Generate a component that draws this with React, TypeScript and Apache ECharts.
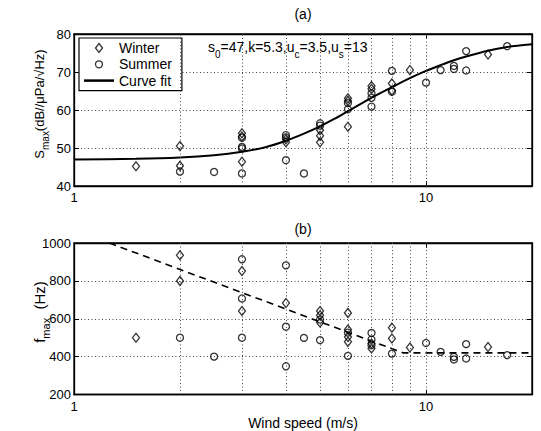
import React, { useEffect, useRef } from 'react';
import * as echarts from 'echarts';

const FONT = '"Liberation Sans", Arial, Helvetica, sans-serif';

// Panel (a): S_max (dB) vs wind speed (m/s)
const winterS: number[][] = [
  [1.5, 45.2], [2, 50.5], [2, 45.3], [3, 53.9], [3, 53.0], [3, 46.4],
  [4, 51.5], [4, 52.3], [5, 54.7], [5, 53.2], [5, 51.5], [6, 63.1],
  [6, 62.4], [6, 55.6], [7, 66.3], [7, 65.5], [8, 67.0], [8, 65.1],
  [9, 70.5], [15, 74.6],
];
const summerS: number[][] = [
  [2, 43.8], [2.5, 43.7], [3, 52.7], [3, 50.3], [3, 49.9], [3, 43.3],
  [4, 53.4], [4, 52.8], [4, 46.8], [4.5, 43.3], [5, 56.5], [5, 55.9],
  [6, 61.8], [6, 60.2], [7, 64.4], [7, 63.2], [7, 60.9], [8, 70.3],
  [8, 64.8], [10, 67.2], [11, 70.5], [12, 71.6], [12, 70.8], [13, 75.5],
  [13, 70.4], [17, 76.8],
];
const curveS: number[][] = [
  [1, 47.0], [1.5, 47.16], [2, 47.5], [2.5, 48.1], [3, 49.0], [3.5, 50.2],
  [4, 51.9], [4.5, 53.8], [5, 55.7], [5.5, 57.7], [6, 59.7], [7, 63.2],
  [8, 66.0], [9, 68.4], [10, 70.3], [11, 71.8], [12, 73.1], [13, 74.1],
  [15, 75.6], [17, 76.6], [20, 77.3],
];

// Panel (b): f_max (Hz) vs wind speed (m/s)
const winterF: number[][] = [
  [1.5, 500], [2, 935], [2, 800], [3, 852], [3, 641], [4, 683],
  [5, 641], [5, 618], [5, 580], [6, 631], [6, 543], [6, 504], [6, 478],
  [7, 469], [7, 443], [8, 553], [8, 496], [9, 448], [15, 451],
];
const summerF: number[][] = [
  [2, 500], [2.5, 400], [3, 914], [3, 707], [3, 500], [4, 882],
  [4, 558], [4, 349], [4.5, 499], [5, 596], [5, 487], [6, 527],
  [6, 404], [7, 525], [7, 490], [7, 460], [8, 416], [10, 472],
  [11, 425], [12, 399], [12, 385], [13, 466], [13, 390], [17, 408],
];
const fitF: number[][] = [
  [1.26, 1000], [8.6, 420], [20, 420],
];

// Axis settings
const xRange = [1, 20];
const xGridValues = [2, 3, 4, 5, 6, 7, 8, 9, 10];
const yRangeS = [40, 80];
const yStepS = 10;
const yRangeF = [200, 1000];
const yStepF = 200;

const legendNames = ['Winter', 'Summer', 'Curve fit'];

const isDecade = (v: number) => {
  const l = Math.log10(v);
  return Math.abs(l - Math.round(l)) < 1e-6 && v < 15;
};

function buildOption(): any {
  const grids = [
    { left: 74, top: 34, width: 458, height: 152 },
    { left: 74, top: 243, width: 458, height: 151.5 },
  ].map((g) => ({
    ...g,
    show: true,
    borderColor: '#000',
    borderWidth: 1.3,
    backgroundColor: '#fff',
    containLabel: false,
  }));

  const xAxisBase = (gridIndex: number, position: string, labels: boolean) => ({
    type: 'log',
    logBase: 10,
    min: xRange[0],
    max: xRange[1],
    gridIndex,
    position,
    axisLine: { show: true, lineStyle: { color: '#000', width: 1.3 } },
    axisTick: { show: true, inside: true, length: 5, lineStyle: { color: '#000', width: 1 } },
    axisLabel: {
      show: labels,
      margin: 5,
      color: '#000',
      fontSize: 13,
      fontFamily: FONT,
      formatter: (v: number) => (isDecade(v) ? String(Math.round(v)) : ''),
    },
    splitLine: { show: false },
  });

  const yAxisBase = (
    gridIndex: number,
    position: string,
    range: number[],
    step: number,
    labels: boolean,
  ) => ({
    type: 'value',
    gridIndex,
    position,
    min: range[0],
    max: range[1],
    interval: step,
    axisLine: { show: true, lineStyle: { color: '#000', width: 1.3 } },
    axisTick: { show: true, inside: true, length: 5, lineStyle: { color: '#000', width: 1 } },
    axisLabel: {
      show: labels,
      margin: 3,
      color: '#000',
      fontSize: 13,
      fontFamily: FONT,
      formatter: (v: number) => String(Math.round(v)),
    },
    splitLine: {
      show: labels,
      lineStyle: { color: '#444', width: 1, type: [1, 2.5] },
    },
  });

  const markerStyle = { color: 'transparent', borderColor: '#000', borderWidth: 1.3 };
  const vGrid = {
    silent: true,
    symbol: ['none', 'none'],
    label: { show: false },
    emphasis: { disabled: true },
    lineStyle: { color: '#444', width: 1, type: [1, 2.5] },
    data: xGridValues.map((v) => ({ xAxis: v })),
  };

  const diamondIcon = 'path://M3.5,0 L7,4.5 L3.5,9 L0,4.5 Z';
  const circleIcon =
    'path://M0,0 M7,9 M0,4.5 A3.5,3.5,0,1,1,7,4.5 A3.5,3.5,0,1,1,0,4.5 Z';
  const lineIcon = 'path://M0,0 L24,0 L24,2 L0,2 Z';

  return {
    animation: false,
    backgroundColor: '#fff',
    textStyle: { fontFamily: FONT },
    grid: grids,
    xAxis: [
      xAxisBase(0, 'bottom', true),
      xAxisBase(1, 'bottom', true),
      xAxisBase(0, 'top', false),
      xAxisBase(1, 'top', false),
    ],
    yAxis: [
      yAxisBase(0, 'left', yRangeS, yStepS, true),
      yAxisBase(1, 'left', yRangeF, yStepF, true),
      yAxisBase(0, 'right', yRangeS, yStepS, false),
      yAxisBase(1, 'right', yRangeF, yStepF, false),
    ],
    legend: {
      show: true,
      orient: 'vertical',
      left: 79,
      top: 38,
      selectedMode: false,
      backgroundColor: '#fff',
      borderColor: '#000',
      borderWidth: 1.2,
      padding: [3, 10, 3, 5],
      itemGap: 2.3,
      itemWidth: 30,
      itemHeight: 9,
      symbolKeepAspect: true,
      textStyle: { fontSize: 14, fontFamily: FONT, color: '#000' },
      data: [
        {
          name: legendNames[0],
          icon: diamondIcon,
          itemStyle: { color: 'transparent', borderColor: '#000', borderWidth: 1.3 },
        },
        {
          name: legendNames[1],
          icon: circleIcon,
          itemStyle: { color: 'transparent', borderColor: '#000', borderWidth: 1.3 },
        },
        {
          name: legendNames[2],
          icon: lineIcon,
          itemStyle: { color: '#000', borderWidth: 0 },
        },
      ],
    },
    series: [
      {
        name: legendNames[0],
        type: 'scatter',
        xAxisIndex: 0,
        yAxisIndex: 0,
        symbol: 'diamond',
        symbolSize: [7, 9],
        itemStyle: markerStyle,
        data: winterS,
        z: 3,
        markLine: vGrid,
      },
      {
        name: legendNames[1],
        type: 'scatter',
        xAxisIndex: 0,
        yAxisIndex: 0,
        symbol: 'circle',
        symbolSize: 7,
        itemStyle: markerStyle,
        data: summerS,
        z: 3,
      },
      {
        name: legendNames[2],
        type: 'line',
        xAxisIndex: 0,
        yAxisIndex: 0,
        smooth: 0.25,
        symbol: 'none',
        showSymbol: false,
        lineStyle: { color: '#000', width: 2 },
        itemStyle: { color: '#000' },
        data: curveS,
        z: 4,
      },
      {
        name: legendNames[0],
        type: 'scatter',
        xAxisIndex: 1,
        yAxisIndex: 1,
        symbol: 'diamond',
        symbolSize: [7, 9],
        itemStyle: markerStyle,
        data: winterF,
        z: 3,
        markLine: vGrid,
      },
      {
        name: legendNames[1],
        type: 'scatter',
        xAxisIndex: 1,
        yAxisIndex: 1,
        symbol: 'circle',
        symbolSize: 7,
        itemStyle: markerStyle,
        data: summerF,
        z: 3,
      },
      {
        name: 'Fit (b)',
        type: 'line',
        xAxisIndex: 1,
        yAxisIndex: 1,
        symbol: 'none',
        showSymbol: false,
        lineStyle: { color: '#000', width: 1.6, type: [7, 5] },
        data: fitF,
        z: 4,
      },
    ],
    graphic: [
      {
        type: 'text',
        x: 303,
        y: 14,
        style: {
          text: '(a)',
          font: `14px ${FONT}`,
          fill: '#000',
          align: 'center',
          verticalAlign: 'middle',
        },
      },
      {
        type: 'text',
        x: 303,
        y: 229,
        style: {
          text: '(b)',
          font: `14px ${FONT}`,
          fill: '#000',
          align: 'center',
          verticalAlign: 'middle',
        },
      },
      {
        type: 'text',
        x: 303,
        y: 423,
        style: {
          text: 'Wind speed (m/s)',
          font: `14px ${FONT}`,
          fill: '#000',
          align: 'center',
          verticalAlign: 'middle',
        },
      },
      {
        type: 'text',
        x: 208,
        y: 40,
        z: 10,
        style: {
          text: '{m|s}{b|0}{m|=47,k=5.3,u}{b|c}{m|=3.5,u}{b|s}{m|=13}',
          align: 'left',
          verticalAlign: 'top',
          fill: '#000',
          rich: {
            m: { fontSize: 14, fontFamily: FONT, lineHeight: 16, verticalAlign: 'top', fill: '#000' },
            b: { fontSize: 10, fontFamily: FONT, lineHeight: 11, padding: [9, 0, 0, 0], verticalAlign: 'top', fill: '#000' },
          },
        },
      },
      {
        type: 'text',
        x: 40,
        y: 104,
        rotation: Math.PI / 2,
        style: {
          text: '{m|S}{b|max}{m|(dB//μPa/√Hz)}',
          align: 'center',
          verticalAlign: 'middle',
          fill: '#000',
          rich: {
            m: { fontSize: 13, fontFamily: FONT, lineHeight: 15, verticalAlign: 'top', fill: '#000' },
            b: { fontSize: 10, fontFamily: FONT, lineHeight: 11, padding: [8, 0, 0, 0], verticalAlign: 'top', fill: '#000' },
          },
        },
      },
      {
        type: 'text',
        x: 40,
        y: 312,
        rotation: Math.PI / 2,
        style: {
          text: '{m|f}{b|max}{m|  (Hz)}',
          align: 'center',
          verticalAlign: 'middle',
          fill: '#000',
          rich: {
            m: { fontSize: 15, fontFamily: FONT, lineHeight: 17, verticalAlign: 'top', fill: '#000' },
            b: { fontSize: 11, fontFamily: FONT, lineHeight: 12, padding: [9, 0, 0, 0], verticalAlign: 'top', fill: '#000' },
          },
        },
      },
    ],
  };
}

export default function App() {
  const ref = useRef<HTMLDivElement>(null);
  useEffect(() => {
    if (!ref.current) return;
    const chart = echarts.init(ref.current, null, { renderer: 'svg' });
    chart.setOption(buildOption());
    return () => {
      chart.dispose();
    };
  }, []);
  return (
    <div
      ref={ref}
      style={{ position: 'absolute', left: 0, top: 0, width: 541, height: 431, background: '#fff' }}
    />
  );
}
